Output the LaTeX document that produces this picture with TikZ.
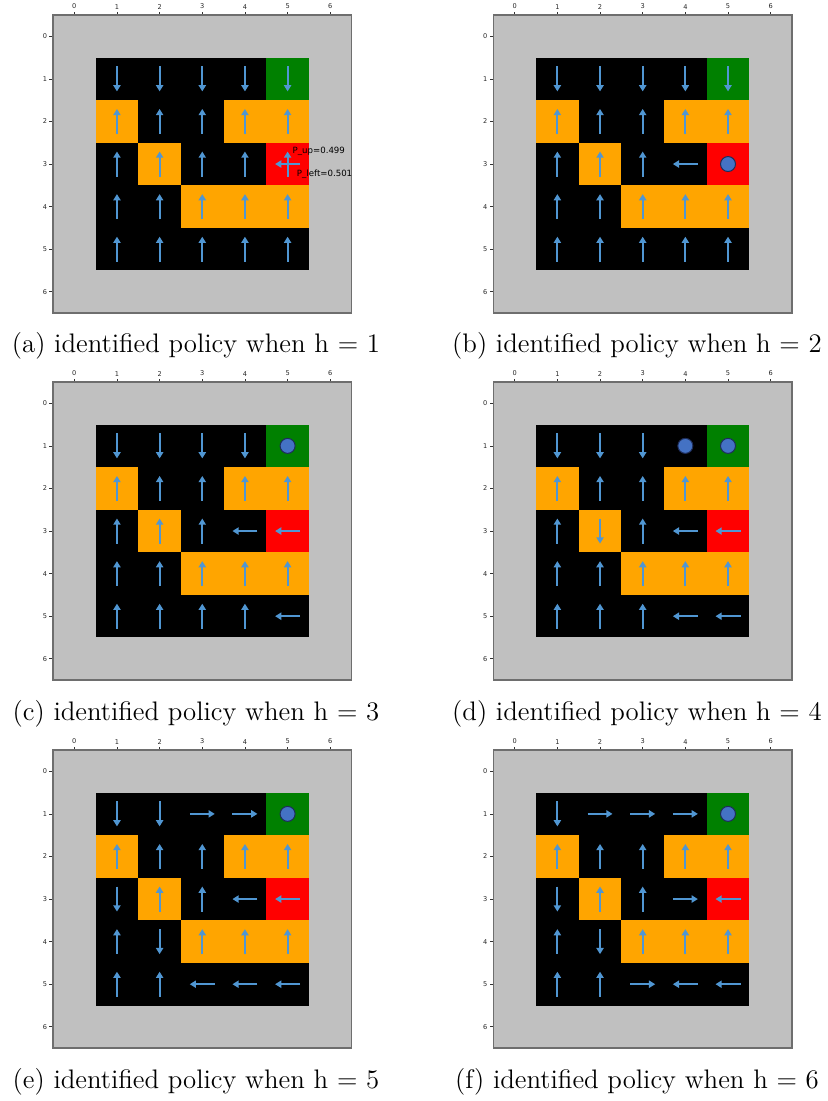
\documentclass[tikz,border=0pt]{standalone}
\usepackage{fontspec}
\newfontfamily\djv{DejaVu Sans}
\usetikzlibrary{arrows.meta}
\definecolor{arrblue}{RGB}{80,150,210}
\definecolor{silverbg}{RGB}{192,192,192}
\definecolor{orng}{RGB}{255,165,0}
\definecolor{grn}{RGB}{0,128,0}
\definecolor{rd}{RGB}{255,0,0}
\definecolor{dotblue}{RGB}{68,114,196}
\definecolor{dotedge}{RGB}{30,45,90}
\definecolor{framegray}{RGB}{110,110,110}
\tikzset{
  arr/.style={draw=arrblue, line width=1.1pt, line cap=butt, -{Triangle[length=3.1pt,width=3.6pt]}},
  fB/.style={fill=black},
  fG/.style={fill=grn},
  fO/.style={fill=orng},
  fR/.style={fill=rd},
  tickmark/.style={draw=black!80, line width=0.35pt},
  ticklab/.style={font=\djv\fontsize{3.3}{3.3}\selectfont, inner sep=0pt, text=black!85},
  probtext/.style={font=\djv\fontsize{4.3}{5}\selectfont, inner sep=0pt, anchor=west},
  captext/.style={font=\fontsize{13.4}{16}\selectfont, anchor=base, inner sep=0pt},
  pics/pU/.style={code={\draw[arr] (0,-6.25pt) -- (0,6.25pt);}},
  pics/pD/.style={code={\draw[arr] (0,6.25pt) -- (0,-6.25pt);}},
  pics/pL/.style={code={\draw[arr] (6.25pt,0) -- (-6.25pt,0);}},
  pics/pR/.style={code={\draw[arr] (-6.25pt,0) -- (6.25pt,0);}},
  pics/pN/.style={code={}},
  pics/pC/.style={code={\draw[fill=dotblue, draw=dotedge, line width=0.5pt] (0,0) circle[radius=3.75pt];}},
  pics/pX/.style={code={\draw[arr] (0,-6.25pt) -- (0,6.25pt); \draw[arr] (6.25pt,0) -- (-6.25pt,0);}},
}
\newcommand\gwpanel[4]{%
\begin{scope}[shift={(#1,#2)}, x=21.33pt, y=-21.29pt]
  \fill[silverbg] (-0.5,-0.5) rectangle (6.5,6.5);
  \foreach \t in {0,...,6} {
    \draw[tickmark] (\t,-0.5) -- ++(0,1.75pt);
    \node[ticklab, anchor=south, yshift=2.8pt] at (\t,-0.5) {\t};
    \draw[tickmark] (-0.5,\t) -- ++(-1.75pt,0);
    \node[ticklab, anchor=east, xshift=-2.8pt] at (-0.5,\t) {\t};
  }
  \foreach \f [count=\i from 0] in {B,B,B,B,G, O,B,B,O,O, B,O,B,B,R, B,B,O,O,O, B,B,B,B,B} {
    \pgfmathtruncatemacro\rr{int(\i/5)+1}
    \pgfmathtruncatemacro\cc{mod(\i,5)+1}
    \edef\tmp{\noexpand\fill[f\f] (\cc-0.5,\rr-0.5) rectangle (\cc+0.5,\rr+0.5);}\tmp
  }
  \draw[draw=framegray, line width=0.65pt] (-0.5,-0.5) rectangle (6.5,6.5);
  \foreach \d [count=\i from 0] in {#3} {
    \pgfmathtruncatemacro\rr{int(\i/5)+1}
    \pgfmathtruncatemacro\cc{mod(\i,5)+1}
    \edef\tmp{\noexpand\pic at (\cc,\rr) {p\d};}\tmp
  }
  #4
\end{scope}}
\begin{document}
\begin{tikzpicture}[x=0.5pt, y=-0.5pt]
\useasboundingbox (0,0) rectangle (828,1101);
\gwpanel{37.15pt}{-18.15pt}{D,D,D,D,D, U,U,U,U,U, U,U,U,U,X, U,U,U,U,U, U,U,U,U,U}{%
  \node[probtext] (pup) at (5.11,2.71) {P\_up=0.499};
  \node[probtext] (pleft) at (5.21,3.23) {P\_left=0.501};}
\gwpanel{257.35pt}{-18.15pt}{D,D,D,D,D, U,U,U,U,U, U,U,U,L,C, U,U,U,U,U, U,U,U,U,U}{}
\gwpanel{37.15pt}{-201.65pt}{D,D,D,D,C, U,U,U,U,U, U,U,U,L,L, U,U,U,U,U, U,U,U,U,L}{}
\gwpanel{257.35pt}{-201.65pt}{D,D,D,C,C, U,U,U,U,U, U,D,U,L,L, U,U,U,U,U, U,U,U,L,L}{}
\gwpanel{37.15pt}{-385.65pt}{D,D,R,R,C, U,U,U,U,U, D,U,U,L,L, U,D,U,U,U, U,U,L,L,L}{}
\gwpanel{257.35pt}{-385.65pt}{D,R,R,R,C, U,U,U,U,U, D,U,U,R,L, U,D,U,U,U, U,U,R,L,L}{}
\node[captext] (capa) at (196,352.5) {(a) identified policy when h = 1};
\node[captext] (capb) at (637,352.5) {(b) identified policy when h = 2};
\node[captext] (capc) at (196,720) {(c) identified policy when h = 3};
\node[captext] (capd) at (637,720) {(d) identified policy when h = 4};
\node[captext] (cape) at (196,1088) {(e) identified policy when h = 5};
\node[captext] (capf) at (637,1088) {(f) identified policy when h = 6};
\end{tikzpicture}
\end{document}
